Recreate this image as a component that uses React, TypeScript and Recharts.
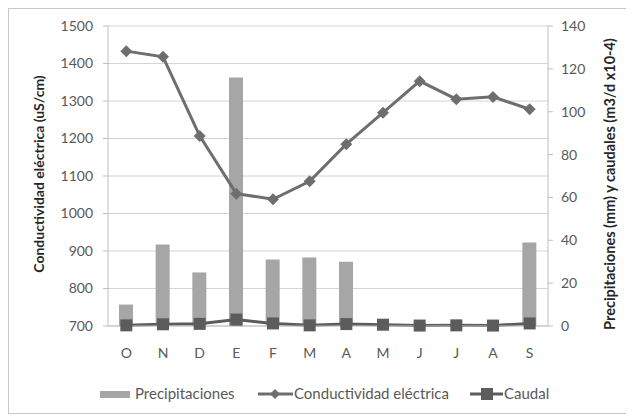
import {
  ComposedChart,
  Bar,
  Line,
  XAxis,
  YAxis,
  CartesianGrid,
} from 'recharts';

const months = ['O', 'N', 'D', 'E', 'F', 'M', 'A', 'M', 'J', 'J', 'A', 'S'];
const precipitaciones = [10, 38, 25, 116, 31, 32, 30, 0, 0, 0, 0, 39];
const conductividad = [1433, 1418, 1207, 1053, 1038, 1086, 1185, 1269, 1353, 1305, 1311, 1278];
const caudal = [0.3, 0.8, 1, 3, 1.2, 0.3, 0.9, 0.6, 0.2, 0.3, 0.2, 1.2];
const leftTicks = [700, 800, 900, 1000, 1100, 1200, 1300, 1400, 1500];
const rightTicks = [0, 20, 40, 60, 80, 100, 120, 140];
const boundaryTicks = [0, 1, 2, 3, 4, 5, 6, 7, 8, 9, 10, 11, 12];

const font = 'Lato, "Open Sans", sans-serif';
const tickStyle = { fill: '#595959', fontSize: 14, fontFamily: font };

const Diamond = (props: any) => {
  const { cx, cy } = props;
  if (cx == null || cy == null) return null;
  const r = 6;
  return (
    <polygon
      points={`${cx},${cy - r} ${cx + r},${cy} ${cx},${cy + r} ${cx - r},${cy}`}
      fill="#6e6e6e"
    />
  );
};

const Square = (props: any) => {
  const { cx, cy } = props;
  if (cx == null || cy == null) return null;
  return <rect x={cx - 6} y={cy - 6} width={12} height={12} fill="#5c5c5c" />;
};

export default function App() {
  const data = months.map((m, i) => ({
    month: m,
    prec: precipitaciones[i],
    cond: conductividad[i],
    caudal: caudal[i],
  }));

  return (
    <div
      style={{
        position: 'relative',
        width: 622,
        height: 404,
        border: '1px solid #c8c8c8',
        background: '#fff',
        fontFamily: font,
      }}
    >
      <ComposedChart
        width={622}
        height={404}
        data={data}
        margin={{ top: 17, right: 0, bottom: 57, left: 0 }}
      >
        <CartesianGrid yAxisId="left" vertical={false} stroke="#d4d4d4" />
        {/* category boundary ticks, like the Excel original */}
        <XAxis
          xAxisId="bounds"
          type="number"
          domain={[0, 12]}
          ticks={boundaryTicks}
          interval={0}
          height={0}
          tick={() => <g />}
          axisLine={false}
          tickSize={5}
          stroke="#c8c8c8"
        />
        <XAxis
          dataKey="month"
          height={30}
          tickLine={false}
          tickMargin={16}
          stroke="#bfbfbf"
          tick={tickStyle}
        />
        <YAxis
          yAxisId="left"
          width={99}
          domain={[700, 1500]}
          ticks={leftTicks}
          interval={0}
          tickSize={5}
          tickMargin={10}
          stroke="#bfbfbf"
          tick={tickStyle}
          label={({ viewBox }: any) => {
            const x = viewBox.x + 29;
            const y = viewBox.y + viewBox.height / 2 - 2;
            return (
              <text
                x={x}
                y={y}
                transform={`rotate(-90 ${x} ${y})`}
                textAnchor="middle"
                dominantBaseline="central"
                fontSize={14}
                fontWeight="bold"
                fontFamily={font}
                fill="#262626"
              >
                Conductividad eléctrica (uS/cm)
              </text>
            );
          }}
        />
        <YAxis
          yAxisId="right"
          orientation="right"
          width={83}
          domain={[0, 140]}
          ticks={rightTicks}
          interval={0}
          tickSize={5}
          tickMargin={8}
          stroke="#bfbfbf"
          tick={tickStyle}
          label={({ viewBox }: any) => {
            const x = viewBox.x + 61;
            const y = viewBox.y + viewBox.height / 2 + 8;
            return (
              <text
                x={x}
                y={y}
                transform={`rotate(-90 ${x} ${y})`}
                textAnchor="middle"
                dominantBaseline="central"
                fontSize={14.5}
                fontWeight="bold"
                fontFamily={font}
                fill="#262626"
              >
                Precipitaciones (mm) y caudales (m3/d x10-4)
              </text>
            );
          }}
        />
        <Bar
          yAxisId="right"
          dataKey="prec"
          fill="#a6a6a6"
          barSize={14}
          isAnimationActive={false}
        />
        <Line
          yAxisId="left"
          dataKey="cond"
          stroke="#6e6e6e"
          strokeWidth={3}
          dot={<Diamond />}
          activeDot={false}
          isAnimationActive={false}
        />
        <Line
          yAxisId="right"
          dataKey="caudal"
          stroke="#5c5c5c"
          strokeWidth={3}
          dot={<Square />}
          activeDot={false}
          isAnimationActive={false}
        />
      </ComposedChart>

      {/* legend */}
      <div style={{ position: 'absolute', top: 374, left: 0, width: 622, height: 22, fontSize: 15, color: '#595959' }}>
        <svg width={622} height={22} style={{ position: 'absolute', left: 0, top: 0 }}>
          <rect x={91} y={8} width={30} height={7} fill="#a6a6a6" />
          <line x1={249} y1={11} x2={284} y2={11} stroke="#6e6e6e" strokeWidth={3} />
          <polygon points="266,6 271,11 266,16 261,11" fill="#6e6e6e" />
          <line x1={461} y1={11} x2={494} y2={11} stroke="#5c5c5c" strokeWidth={3} />
          <rect x={472} y={5} width={12} height={12} fill="#5c5c5c" />
        </svg>
        <span style={{ position: 'absolute', left: 126, top: 1 }}>Precipitaciones</span>
        <span style={{ position: 'absolute', left: 285, top: 1 }}>Conductividad eléctrica</span>
        <span style={{ position: 'absolute', left: 495, top: 1 }}>Caudal</span>
      </div>
    </div>
  );
}
